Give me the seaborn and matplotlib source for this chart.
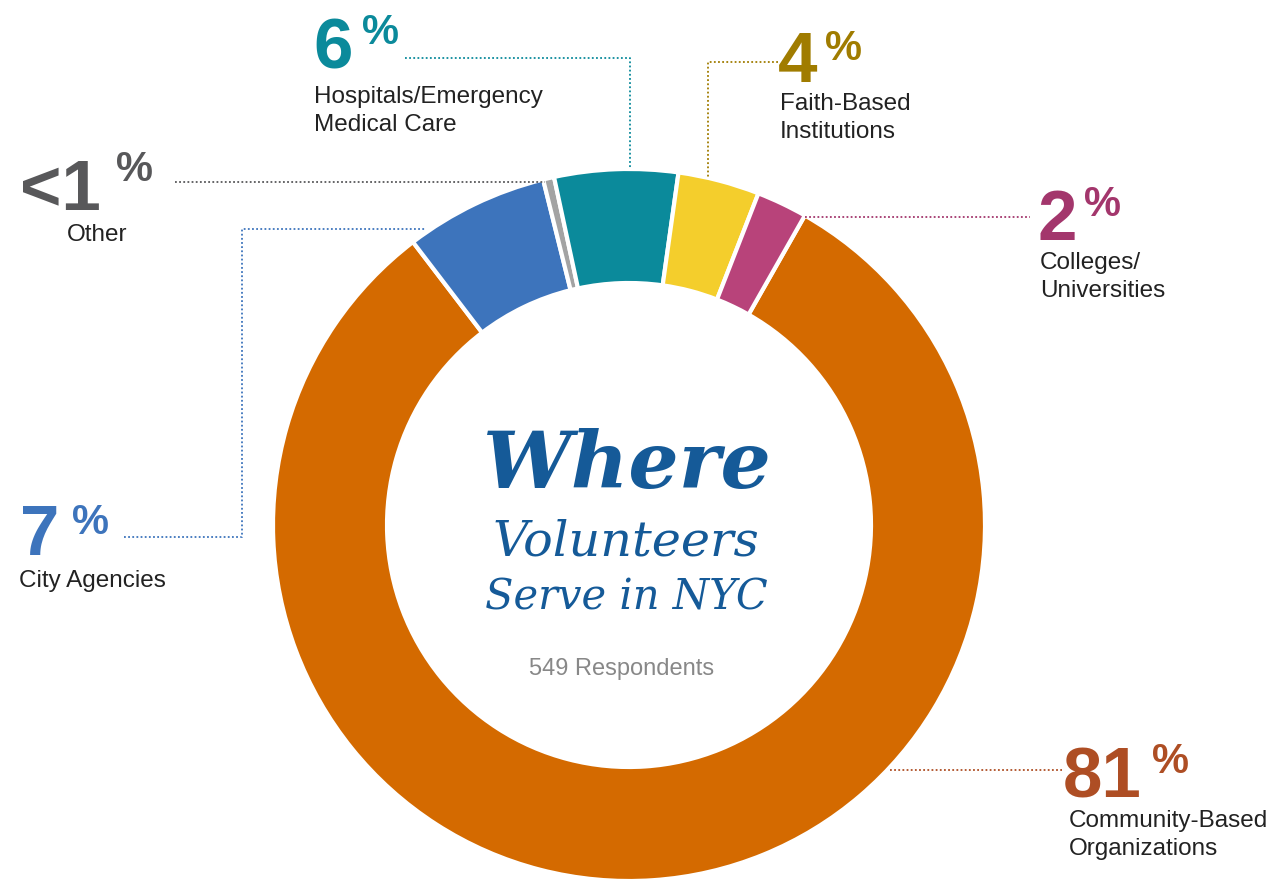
"""
Donut chart: where volunteers serve in NYC (549 respondents).
"""

import matplotlib.pyplot as plt
import seaborn as sns

# data, in the order drawn clockwise from the right edge of the big slice
categories = ["Community-Based\nOrganizations", "City Agencies", "Other",
              "Hospitals/Emergency\nMedical Care", "Faith-Based\nInstitutions",
              "Colleges/\nUniversities"]
shares = [81.4, 6.5, 0.5, 5.6, 3.7, 2.3]
share_labels = ["81", "7", "<1", "6", "4", "2"]

wedge_colors = ["#D46A00", "#3D74BC", "#A3A3A3", "#0B8A9B", "#F4CE2C", "#B8437A"]
label_colors = ["#AE4E24", "#3D74BC", "#58585A", "#0B8A9B", "#A07C00", "#A3366C"]

W, H = 1274, 880


def px(x, y):
    # pixel coords (origin top-left) -> data coords
    return x, H - y


def make_chart():
    sns.set_theme(style="white")
    plt.rcParams["font.family"] = ["Liberation Sans", "DejaVu Sans"]

    fig = plt.figure(figsize=(W / 100, H / 100), dpi=100)
    ax = fig.add_axes([0, 0, 1, 1])

    ax.pie(shares, colors=wedge_colors, startangle=60.4, counterclock=False,
           center=px(629, 525), radius=356,
           wedgeprops=dict(width=114, edgecolor="white", linewidth=3))
    ax.set_xlim(0, W)
    ax.set_ylim(0, H)
    ax.set_aspect("equal")
    ax.axis("off")

    # number position, percent-sign position, label position, leader path
    layout = [
        ((1063, 797), (1152, 742), (1069, 810), [(890, 770), (1062, 770)]),
        ((20, 555), (72, 503), (19, 570), [(124, 537), (242, 537), (242, 229), (425, 229)]),
        ((20, 210), (116, 150), (67, 224), [(175, 182), (545, 182)]),
        ((313, 68), (362, 13), (314, 86), [(405, 58), (630, 58), (630, 168)]),
        ((778, 82), (825, 29), (780, 93), [(778, 62), (708, 62), (708, 178)]),
        ((1038, 240), (1084, 185), (1040, 252), [(805, 217), (1030, 217)]),
    ]

    for i, (num_xy, pct_xy, lab_xy, path) in enumerate(layout):
        c = label_colors[i]
        ax.text(*px(*num_xy), share_labels[i], fontsize=51, fontweight="bold",
                color=c, ha="left", va="baseline")
        ax.text(*px(*pct_xy), "%", fontsize=30, fontweight="bold",
                color=c, ha="left", va="top")
        ax.text(*px(*lab_xy), categories[i], fontsize=17.5, color="#222222",
                ha="left", va="top", linespacing=1.38)
        xs = [p[0] for p in path]
        ys = [H - p[1] for p in path]
        ax.plot(xs, ys, color=c, linewidth=1.3, linestyle=(0, (1, 1.3)))

    # centre title
    blue = "#155A98"
    ax.text(*px(627, 488), "Where", fontsize=57, fontweight="bold", style="italic",
            family="DejaVu Serif", color=blue, ha="center", va="baseline")
    ax.text(*px(626, 555), "Volunteers", fontsize=35.5, style="italic",
            family="DejaVu Serif", color=blue, ha="center", va="baseline")
    ax.text(*px(626, 609), "Serve in NYC", fontsize=30, style="italic",
            family="DejaVu Serif", color=blue, ha="center", va="baseline")
    ax.text(*px(622, 669), "549 Respondents", fontsize=17, color="#888888",
            ha="center", va="center")

    fig.savefig("out.png", dpi=100)


if __name__ == "__main__":
    make_chart()
